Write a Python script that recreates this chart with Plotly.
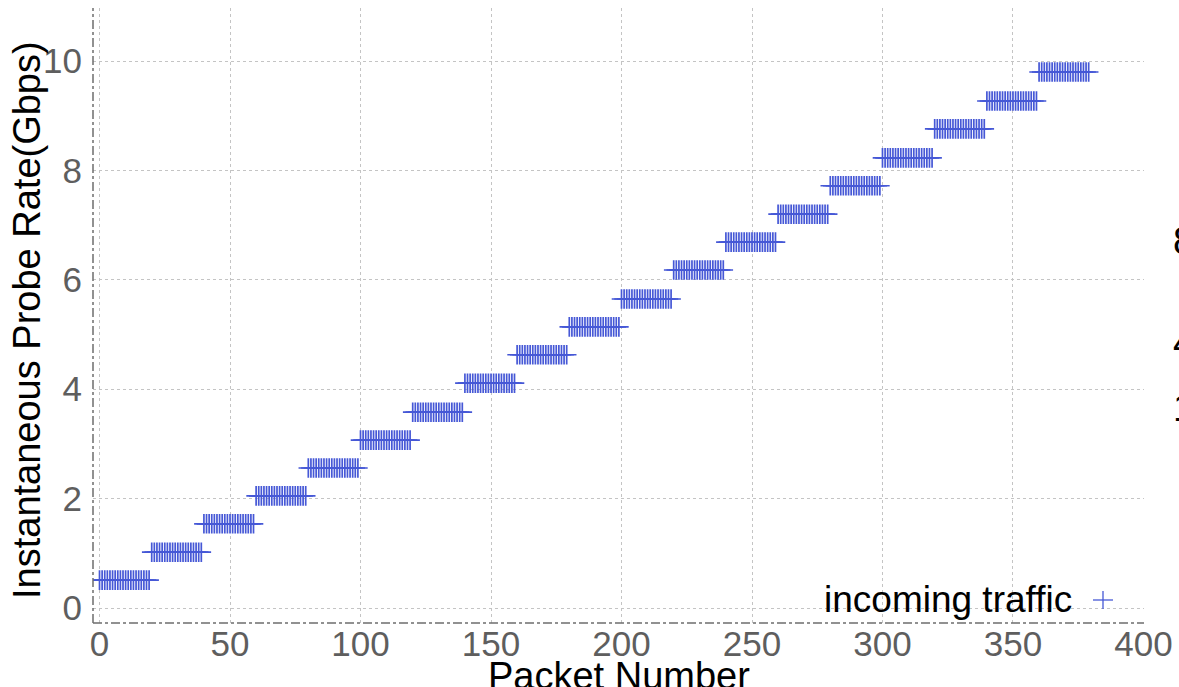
import plotly.graph_objects as go

# Probe train: 19 rate steps, 20 packets sent at each step
step_rates = [0.51, 1.02, 1.54, 2.05, 2.56, 3.07, 3.58, 4.11, 4.63, 5.14,
              5.65, 6.18, 6.69, 7.20, 7.72, 8.23, 8.76, 9.27, 9.80]
packets_per_step = 20
x_ticks = [0, 50, 100, 150, 200, 250, 300, 350, 400]
y_ticks = [0, 2, 4, 6, 8, 10]
series_name = "incoming traffic"

packet_number = []
probe_rate = []
for i, rate in enumerate(step_rates):
    for j in range(packets_per_step):
        packet_number.append(i * packets_per_step + j)
        probe_rate.append(rate)

W, H = 1179, 687
ML, MR, MT, MB = 93, 35, 8, 64
PW, PH = W - ML - MR, H - MT - MB
FONT = "Liberation Sans, Arial, sans-serif"
BLUE = "#4658d6"
TICK_GRAY = "#5e5e5e"


def px(xp):
    """pixel column -> paper x"""
    return (xp - ML) / PW


def py(yp):
    """pixel row -> paper y"""
    return (H - MB - yp) / PH


fig = go.Figure()
fig.add_trace(go.Scatter(
    x=packet_number, y=probe_rate, mode="markers", name=series_name,
    marker=dict(symbol="cross-thin", size=14,
                line=dict(color=BLUE, width=1.7), color=BLUE),
    showlegend=False,
))

grid = dict(showgrid=True, gridcolor="#c4c4c4", gridwidth=1, griddash="3px,3px",
            zeroline=False, showline=False, ticks="", automargin=False,
            tickfont=dict(family=FONT, size=35, color=TICK_GRAY))

# legend key drawn as a "+" to the right of the label
kx, ky = 1103, 600
shapes = [
    dict(type="line", xref="paper", yref="paper", x0=0, x1=0, y0=0, y1=1,
         line=dict(color="#6e6e6e", width=1.5, dash="dashdot")),
    dict(type="line", xref="paper", yref="paper", x0=0, x1=1, y0=0, y1=0,
         line=dict(color="#6e6e6e", width=1.5, dash="dashdot")),
    dict(type="line", xref="paper", yref="paper", x0=px(kx - 10), x1=px(kx + 10),
         y0=py(ky), y1=py(ky), line=dict(color=BLUE, width=1.3)),
    dict(type="line", xref="paper", yref="paper", x0=px(kx), x1=px(kx),
         y0=py(ky - 9), y1=py(ky + 9), line=dict(color=BLUE, width=1.3)),
]

fig.update_layout(
    width=W, height=H,
    margin=dict(l=ML, r=MR, t=MT, b=MB, pad=0),
    paper_bgcolor="white", plot_bgcolor="white",
    font=dict(family=FONT),
    showlegend=False,
    xaxis=dict(range=[-2.5, 400.2], tickvals=x_ticks, ticklabelstandoff=-3, **grid),
    yaxis=dict(range=[-0.274, 10.97], tickvals=y_ticks, ticklabelstandoff=10, **grid),
    shapes=shapes,
    annotations=[
        dict(text="Instantaneous Probe Rate(Gbps)", textangle=-90,
             xref="paper", yref="paper", x=px(27), y=py(320),
             xanchor="center", yanchor="middle", showarrow=False,
             font=dict(family=FONT, size=38, color="black")),
        dict(text="Packet Number", xref="paper", yref="paper",
             x=0.5, y=py(653), xanchor="center", yanchor="top",
             showarrow=False, font=dict(family=FONT, size=38, color="black")),
        dict(text=series_name, xref="paper", yref="paper",
             x=px(1074), y=py(599), xanchor="right", yanchor="middle",
             showarrow=False, font=dict(family=FONT, size=37, color="black")),
        # labels of the neighbouring panel, cut off at the right edge
        dict(text="8", xref="paper", yref="paper", x=px(1171),
             y=py(241), xanchor="left", yanchor="middle",
             showarrow=False, font=dict(family=FONT, size=38, color="black")),
        dict(text="4", xref="paper", yref="paper", x=px(1171),
             y=py(343), xanchor="left", yanchor="middle",
             showarrow=False, font=dict(family=FONT, size=38, color="black")),
        dict(text="1", xref="paper", yref="paper", x=px(1171),
             y=py(408), xanchor="left", yanchor="middle",
             showarrow=False, font=dict(family=FONT, size=38, color="black")),
    ],
)

fig.write_html("out.html")
